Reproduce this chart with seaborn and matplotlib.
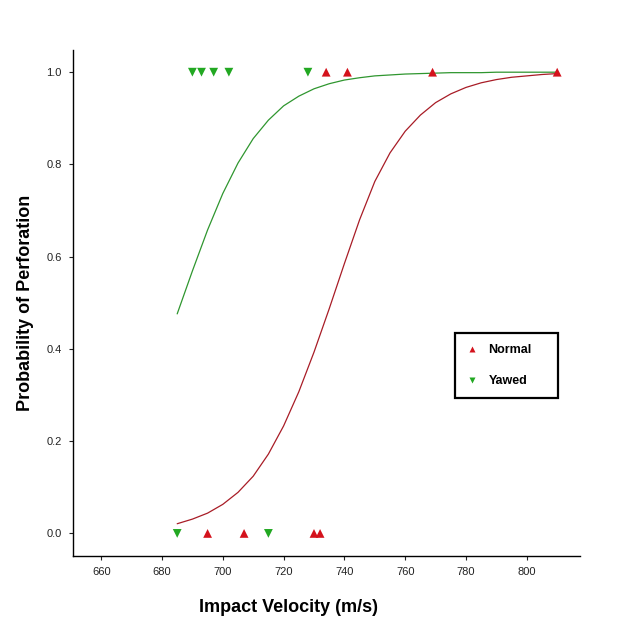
import pandas as pd
import matplotlib
matplotlib.use("Agg")
import matplotlib.pyplot as plt
import seaborn as sns

# Observed shots (1 = perforated, 0 = not)
normal_velocity = [695, 707, 730, 732, 734, 741, 769, 810]
normal_outcome = [0, 0, 0, 0, 1, 1, 1, 1]
yawed_velocity = [685, 690, 693, 697, 702, 715, 728]
yawed_outcome = [0, 1, 1, 1, 1, 0, 1]

# Fitted probability curves, every 5 m/s
curve_velocity = [685, 690, 695, 700, 705, 710, 715, 720, 725, 730, 735, 740, 745,
                  750, 755, 760, 765, 770, 775, 780, 785, 790, 795, 800, 805, 810]
normal_prob = [0.021, 0.031, 0.044, 0.063, 0.089, 0.124, 0.172, 0.233, 0.307, 0.393,
               0.487, 0.585, 0.680, 0.763, 0.825, 0.872, 0.907, 0.934, 0.953, 0.967,
               0.977, 0.984, 0.989, 0.992, 0.995, 0.997]
yawed_prob = [0.476, 0.569, 0.658, 0.737, 0.803, 0.856, 0.896, 0.927, 0.948, 0.964,
              0.975, 0.983, 0.988, 0.992, 0.994, 0.996, 0.997, 0.998, 0.999, 0.999,
              0.999, 1.0, 1.0, 1.0, 1.0, 1.0]

x_ticks = [660, 680, 700, 720, 740, 760, 780, 800]
y_ticks = [0.0, 0.2, 0.4, 0.6, 0.8, 1.0]

points = pd.concat([
    pd.DataFrame({"velocity": normal_velocity, "outcome": normal_outcome, "group": "Normal"}),
    pd.DataFrame({"velocity": yawed_velocity, "outcome": yawed_outcome, "group": "Yawed"}),
])
curves = pd.concat([
    pd.DataFrame({"velocity": curve_velocity, "prob": normal_prob, "group": "Normal"}),
    pd.DataFrame({"velocity": curve_velocity, "prob": yawed_prob, "group": "Yawed"}),
])

sns.set_style("ticks")
plt.rcParams["font.family"] = ["Liberation Sans", "DejaVu Sans"]

fig = plt.figure(figsize=(6.18, 6.18), dpi=100)
ax = fig.add_axes([0.118, 0.1003, 0.8205, 0.8187])

sns.lineplot(data=curves, x="velocity", y="prob", hue="group",
             palette={"Normal": "#a81c26", "Yawed": "#2f962f"},
             linewidth=0.9, legend=False, ax=ax)
sns.scatterplot(data=points, x="velocity", y="outcome", hue="group", style="group",
                markers={"Normal": "^", "Yawed": "v"},
                palette={"Normal": "#d4121c", "Yawed": "#22a822"},
                s=40, edgecolor="none", ax=ax, zorder=3)

ax.set_xlim(650.7, 817.5)
ax.set_ylim(-0.049, 1.048)
ax.set_xticks(x_ticks)
ax.set_yticks(y_ticks)
ax.set_yticklabels([f"{v:.1f}" for v in y_ticks])
ax.tick_params(labelsize=8, length=3, width=0.8, pad=5, colors="#222222")
for side in ["left", "bottom"]:
    ax.spines[side].set_linewidth(1.0)
    ax.spines[side].set_color("black")
sns.despine(ax=ax)

ax.set_xlabel("Impact Velocity (m/s)", fontsize=13, fontweight="bold", color="black")
ax.set_ylabel("Probability of Perforation", fontsize=13, fontweight="bold",
              color="black", labelpad=9)
ax.xaxis.set_label_coords(0.426, -0.085)

leg = ax.legend(loc="upper left", bbox_to_anchor=(0.753, 0.31, 0.204, 0.131),
                mode="expand", prop={"weight": "bold", "size": 9},
                frameon=True, fancybox=False, markerscale=0.7,
                borderpad=0.9, labelspacing=1.5, handlelength=1.0, handletextpad=0.8,
                borderaxespad=0)
leg.get_frame().set_edgecolor("black")
leg.get_frame().set_linewidth(1.6)
leg.get_frame().set_alpha(1)
for t in leg.get_texts():
    t.set_color("black")

fig.savefig("out.png", dpi=100, facecolor="white")
